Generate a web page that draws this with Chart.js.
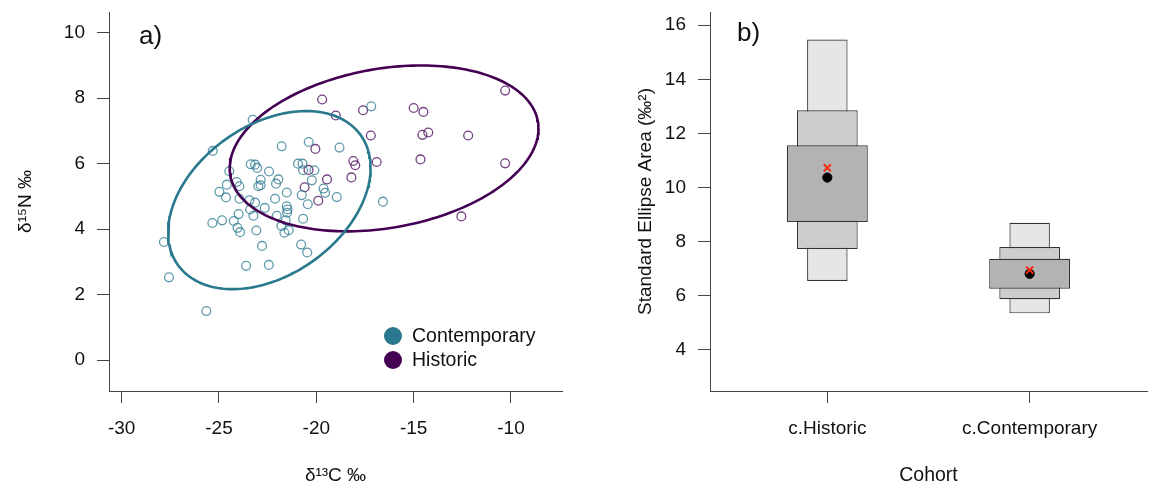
<!DOCTYPE html>
<html>
<head>
<meta charset="utf-8">
<script src="https://cdn.jsdelivr.net/npm/chart.js@4.4.0/dist/chart.umd.min.js"></script>
<style>
  html, body { margin: 0; padding: 0; background: #fff; }
  #wrap { position: relative; width: 1154px; height: 486px; }
  .panel { position: absolute; top: 0; width: 577px; height: 486px; }
</style>
</head>
<body>
<div id="wrap">
  <div class="panel" style="left:0"><canvas id="isotope-scatter" width="577" height="486"></canvas></div>
  <div class="panel" style="left:577px"><canvas id="sea-density" width="577" height="486"></canvas></div>
</div>
<script>
// panel a) - d13C / d15N per cohort
const contemporaryC = [-23.27, -25.32, -17.18, -21.78, -20.39, -18.81, -23.37, -23.15, -23.04, -20.94,
    -20.71, -20.68, -20.10, -24.47, -22.43, -20.23, -21.95, -22.86, -22.07, -24.09,
    -23.95, -24.60, -22.98, -22.86, -24.98, -24.64, -21.52, -20.75, -19.63, -19.55,
    -18.95, -23.95, -23.44, -23.15, -22.12, -20.44, -21.52, -21.48, -22.65, -23.40,
    -21.50, -23.99, -23.23, -22.03, -20.68, -25.34, -24.84, -24.24, -21.57, -21.79,
    -24.05, -23.92, -23.08, -21.42, -21.64, -27.83, -22.79, -20.78, -20.47, -27.57,
    -23.61, -22.44, -25.65, -16.58];
const contemporaryN = [7.34, 6.39, 7.75, 6.53, 6.66, 6.49, 5.98, 5.97, 5.87, 6.00,
    6.00, 5.80, 5.80, 5.77, 5.76, 5.49, 5.52, 5.51, 5.39, 5.44,
    5.31, 5.36, 5.31, 5.34, 5.14, 4.97, 5.12, 5.04, 5.24, 5.11,
    4.98, 4.93, 4.88, 4.81, 4.93, 4.76, 4.70, 4.60, 4.65, 4.60,
    4.50, 4.46, 4.41, 4.41, 4.32, 4.19, 4.27, 4.25, 4.27, 4.10,
    4.04, 3.91, 3.96, 3.97, 3.89, 3.61, 3.49, 3.53, 3.29, 2.53,
    2.88, 2.91, 1.50, 4.84];
const historicC = [-19.7, -19.0, -17.6, -15.0, -14.5, -10.3, -17.2, -14.55, -14.25, -12.2, -14.65,
    -10.3, -16.9, -18.1, -18.0, -18.2, -19.45, -20.05, -20.4, -20.6, -19.9, -12.55];
const historicN = [7.96, 7.47, 7.63, 7.70, 7.58, 8.23, 6.86, 6.88, 6.95, 6.86, 6.13,
    6.01, 6.05, 6.08, 5.95, 5.58, 5.52, 6.45, 5.81, 5.28, 4.87, 4.39];
const xTicks = [-30, -25, -20, -15, -10];
const yTicks = [0, 2, 4, 6, 8, 10];

// panel b) - standard ellipse area credible intervals
const cohorts = ["c.Historic", "c.Contemporary"];
const sea95 = [[6.55, 15.47], [5.35, 8.70]];
const sea75 = [[7.73, 12.86], [5.87, 7.80]];
const sea50 = [[8.73, 11.56], [6.26, 7.37]];
const seaMode = [10.37, 6.81];
const seaML = [10.73, 6.95];
const seaTicks = [4, 6, 8, 10, 12, 14, 16];

const FONT = "'Liberation Sans', Arial, Helvetica, sans-serif";
const TEAL = "#2A788E";
const PURPLE = "#440154";
const AXIS = "#444";
const TEXT = "#111";

Chart.defaults.font.family = FONT;
Chart.defaults.color = TEXT;

// 95% ellipse from sample mean and covariance
function ellipse(xs, ys, p) {
    const n = xs.length;
    const mx = xs.reduce((a, b) => a + b, 0) / n;
    const my = ys.reduce((a, b) => a + b, 0) / n;
    let sxx = 0, syy = 0, sxy = 0;
    for (let i = 0; i < n; i++) {
        sxx += (xs[i] - mx) ** 2;
        syy += (ys[i] - my) ** 2;
        sxy += (xs[i] - mx) * (ys[i] - my);
    }
    sxx /= n - 1; syy /= n - 1; sxy /= n - 1;
    const k = Math.sqrt(-2 * Math.log(1 - p));
    const a = Math.sqrt(sxx), b = sxy / a, c = Math.sqrt(syy - b * b);
    const pts = [];
    for (let i = 0; i <= 200; i++) {
        const t = (i / 200) * 2 * Math.PI;
        pts.push({ x: mx + k * a * Math.cos(t), y: my + k * (b * Math.cos(t) + c * Math.sin(t)) });
    }
    return pts;
}

const toPoints = (xs, ys) => xs.map((x, i) => ({ x: x, y: ys[i] }));

function axisStyle() {
    return {
        grid: { display: true, drawOnChartArea: false, drawTicks: true, offset: false, tickLength: 12, color: AXIS, lineWidth: 1 },
        border: { display: true, color: AXIS, width: 1 },
    };
}

// fixed y-axis width, no extra label overhang at the ends
const fitY = (width) => (s) => {
    s.width = width;
    s.paddingTop = 0;
    s.paddingBottom = 0;
};

const panelLabel = (text, dx, baseline) => ({
    id: "panelLabel",
    afterDraw(chart) {
        const ctx = chart.ctx;
        ctx.save();
        ctx.font = "26px " + FONT;
        ctx.fillStyle = TEXT;
        ctx.textBaseline = "alphabetic";
        ctx.fillText(text, chart.chartArea.left + dx, baseline);
        ctx.restore();
    },
});

const legendEntries = [
    { label: "Contemporary", color: TEAL },
    { label: "Historic", color: PURPLE },
];

const insetLegend = {
    id: "insetLegend",
    afterDraw(chart) {
        const ctx = chart.ctx;
        const { right, bottom } = chart.chartArea;
        ctx.save();
        ctx.font = "19.5px " + FONT;
        ctx.textBaseline = "middle";
        legendEntries.forEach((e, i) => {
            const cx = right - 169;
            const cy = bottom - 55 + i * 24;
            ctx.beginPath();
            ctx.arc(cx, cy, 9, 0, 2 * Math.PI);
            ctx.fillStyle = e.color;
            ctx.fill();
            ctx.fillStyle = TEXT;
            ctx.fillText(e.label, cx + 19, cy + 1);
        });
        ctx.restore();
    },
};

new Chart(document.getElementById("isotope-scatter").getContext("2d"), {
    type: "scatter",
    data: {
        datasets: [
            {
                label: "Contemporary ellipse",
                data: ellipse(contemporaryC, contemporaryN, 0.95),
                showLine: true,
                pointRadius: 0,
                borderColor: TEAL,
                borderWidth: 2.6,
                order: 0,
            },
            {
                label: "Historic ellipse",
                data: ellipse(historicC, historicN, 0.95),
                showLine: true,
                pointRadius: 0,
                borderColor: PURPLE,
                borderWidth: 2.6,
                order: 0,
            },
            {
                label: "Contemporary",
                data: toPoints(contemporaryC, contemporaryN),
                pointRadius: 4.4,
                pointBorderWidth: 1.3,
                pointBackgroundColor: "rgba(0,0,0,0)",
                pointBorderColor: "rgba(42,120,142,0.75)",
                order: 1,
            },
            {
                label: "Historic",
                data: toPoints(historicC, historicN),
                pointRadius: 4.4,
                pointBorderWidth: 1.3,
                pointBackgroundColor: "rgba(0,0,0,0)",
                pointBorderColor: "rgba(68,1,84,0.75)",
                order: 1,
            },
        ],
    },
    options: {
        responsive: false,
        animation: false,
        events: [],
        layout: { padding: { top: 12, right: 15, bottom: 0, left: 0 } },
        plugins: { legend: { display: false }, tooltip: { enabled: false } },
        scales: {
            x: {
                type: "linear",
                min: -30.65,
                max: -7.38,
                afterBuildTicks: (s) => { s.ticks = xTicks.map((v) => ({ value: v })); },
                afterFit: (s) => { s.height = 95; },
                ...axisStyle(),
                ticks: { color: TEXT, font: { size: 19 }, padding: 14, autoSkip: false, maxRotation: 0 },
                title: {
                    display: true,
                    text: "δ¹³C ‰",
                    color: TEXT,
                    font: { size: 19, lineHeight: 1 },
                    padding: { top: 0, bottom: 1 },
                },
            },
            y: {
                min: -0.94,
                max: 10.63,
                afterBuildTicks: (s) => { s.ticks = yTicks.map((v) => ({ value: v })); },
                afterFit: fitY(109),
                ...axisStyle(),
                ticks: { color: TEXT, font: { size: 19 }, padding: 12, autoSkip: false },
                title: {
                    display: true,
                    text: "δ¹⁵N ‰",
                    color: TEXT,
                    font: { size: 19, lineHeight: 1 },
                    padding: { top: 16, bottom: 0 },
                },
            },
        },
    },
    plugins: [panelLabel("a)", 30, 44), insetLegend],
});

const barSet = (label, ranges, fill, width, order) => ({
    type: "bar",
    label: label,
    data: ranges.map((r, i) => ({ x: i + 1, y: r })),
    backgroundColor: fill,
    borderColor: "#333",
    borderWidth: 1.2,
    borderSkipped: false,
    grouped: false,
    categoryPercentage: 1,
    barPercentage: width,
    order: order,
});

new Chart(document.getElementById("sea-density").getContext("2d"), {
    type: "bar",
    data: {
        datasets: [
            {
                type: "scatter",
                label: "ML estimate",
                data: seaML.map((v, i) => ({ x: i + 1, y: v })),
                pointStyle: "crossRot",
                pointRadius: 5,
                borderColor: "#ff2a10",
                borderWidth: 2,
                order: 0,
            },
            {
                type: "scatter",
                label: "Mode",
                data: seaMode.map((v, i) => ({ x: i + 1, y: v })),
                pointStyle: "circle",
                pointRadius: 4.6,
                backgroundColor: "#000",
                borderColor: "#000",
                order: 1,
            },
            barSet("50%", sea50, "#b3b3b3", 0.4, 2),
            barSet("75%", sea75, "#cdcdcd", 0.3, 3),
            barSet("95%", sea95, "#e6e6e6", 0.2, 4),
        ],
    },
    options: {
        responsive: false,
        animation: false,
        events: [],
        layout: { padding: { top: 12, right: 3, bottom: 0, left: 0 } },
        plugins: { legend: { display: false }, tooltip: { enabled: false } },
        scales: {
            x: {
                type: "linear",
                offset: false,
                min: 0.42,
                max: 2.58,
                afterBuildTicks: (s) => { s.ticks = cohorts.map((c, i) => ({ value: i + 1 })); },
                afterFit: (s) => { s.height = 95; },
                ...axisStyle(),
                ticks: {
                    color: TEXT,
                    font: { size: 19 },
                    padding: 14,
                    autoSkip: false,
                    maxRotation: 0,
                    callback: (v) => cohorts[v - 1],
                },
                title: {
                    display: true,
                    text: "Cohort",
                    color: TEXT,
                    font: { size: 19.5, lineHeight: 1 },
                    padding: { top: 0, bottom: 1 },
                },
            },
            y: {
                min: 2.48,
                max: 16.49,
                afterBuildTicks: (s) => { s.ticks = seaTicks.map((v) => ({ value: v })); },
                afterFit: fitY(133),
                ...axisStyle(),
                ticks: { color: TEXT, font: { size: 19 }, padding: 12, autoSkip: false },
                title: {
                    display: true,
                    text: "Standard Ellipse Area (‰²)",
                    color: TEXT,
                    font: { size: 19, lineHeight: 1 },
                    padding: { top: 59, bottom: 0 },
                },
            },
        },
    },
    plugins: [panelLabel("b)", 27, 41)],
});
</script>
</body>
</html>
